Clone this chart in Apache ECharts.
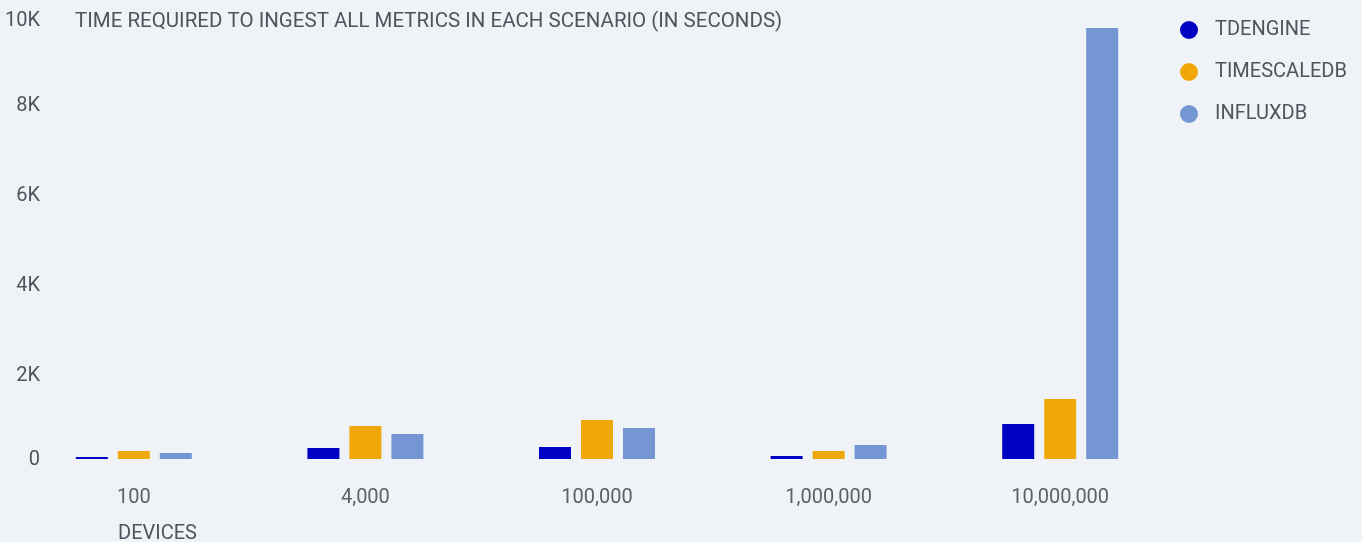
<!DOCTYPE html>
<html>
<head>
<meta charset="utf-8">
<script src="https://cdn.jsdelivr.net/npm/echarts@6/dist/echarts.min.js"></script>
<style>
  html, body { margin: 0; padding: 0; background: #eff3f8; }
  #chart { width: 1362px; height: 542px; }
</style>
</head>
<body>
<div id="chart"></div>
<script>
// device counts per scenario
const scenarios = ["100", "4,000", "100,000", "1,000,000", "10,000,000"];
const seriesNames = ["TDENGINE", "TIMESCALEDB", "INFLUXDB"];
// ingest time in seconds
const tdengine = [44, 244, 267, 67, 778];
const timescale = [178, 733, 867, 178, 1333];
const influx = [133, 556, 689, 311, 9578];
const yTicks = [0, 2000, 4000, 6000, 8000, 10000];
const colors = ["#0000c4", "#f0a808", "#7497d3"];

const chart = echarts.init(document.getElementById("chart"));
const font = "Roboto";
const textGray = "#50545c";

const fmtY = (v) => {
  const txt = v === 0 ? "0" : v / 1000 + "K";
  if (v === yTicks[0]) return "{lo|" + txt + "}";
  if (v === yTicks[yTicks.length - 1]) return "{hi|" + txt + "}";
  return "{mid|" + txt + "}";
};

const option = {
  backgroundColor: "#eff3f8",
  color: colors,
  title: [
    {
      text: "TIME REQUIRED TO INGEST ALL METRICS IN EACH SCENARIO (IN SECONDS)",
      left: 75,
      top: 11,
      padding: 0,
      textStyle: { fontFamily: font, fontSize: 20.5, fontWeight: "normal", color: textGray }
    },
    {
      text: "DEVICES",
      left: 118,
      top: 524,
      padding: 0,
      textStyle: { fontFamily: font, fontSize: 20, fontWeight: "normal", color: textGray }
    }
  ],
  legend: {
    orient: "vertical",
    left: 1175,
    top: 15,
    itemWidth: 18,
    itemHeight: 18,
    itemGap: 22,
    icon: "circle",
    textStyle: { fontFamily: font, fontSize: 20, color: textGray, padding: [0, 0, 0, 12] }
  },
  grid: {
    left: 18,
    right: 186,
    top: 9,
    bottom: 83,
    outerBoundsMode: "none"
  },
  xAxis: {
    type: "category",
    data: scenarios,
    axisLine: { show: false },
    axisTick: { show: false },
    axisLabel: { fontFamily: font, fontSize: 20, color: "#5c6068", margin: 29 }
  },
  yAxis: {
    type: "value",
    min: 0,
    max: 10000,
    interval: 2000,
    splitLine: { show: false },
    axisLine: { show: false },
    axisTick: { show: false },
    axisLabel: {
      inside: true,
      align: "right",
      margin: 22,
      formatter: fmtY,
      rich: {
        mid: { fontFamily: font, fontSize: 20, color: textGray, padding: [14, 0, 0, 0] },
        hi: { fontFamily: font, fontSize: 20, color: textGray, padding: [24, 0, 0, 0] },
        lo: { fontFamily: font, fontSize: 20, color: textGray, padding: [2, 0, 0, 0] }
      }
    }
  },
  series: [
    { name: seriesNames[0], type: "bar", data: tdengine, barWidth: 32, barGap: "31.25%" },
    { name: seriesNames[1], type: "bar", data: timescale, barWidth: 32, barGap: "31.25%" },
    { name: seriesNames[2], type: "bar", data: influx, barWidth: 32, barGap: "31.25%" }
  ]
};
chart.setOption(option);
</script>
</body>
</html>
